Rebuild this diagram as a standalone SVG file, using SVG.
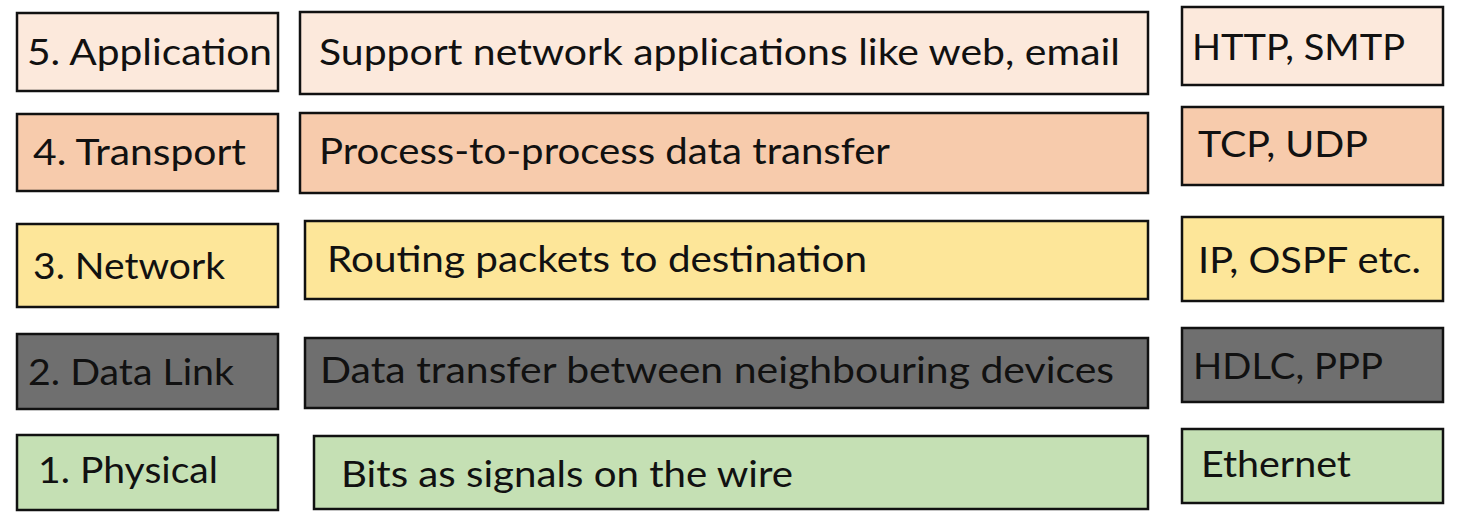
<svg xmlns="http://www.w3.org/2000/svg" width="1472" height="520" viewBox="0 0 1472 520">
<style>
rect{stroke:#111;stroke-width:2.5}
text{font-family:Lato,"Open Sans","Liberation Sans",sans-serif;font-size:36px;fill:#111}
.l5{fill:#FCE9DC}.l4{fill:#F7CBAC}.l3{fill:#FDE699}.l2{fill:#6F6F6F}.l1{fill:#C5E0B4}
</style>
<rect x="0" y="0" width="1472" height="520" style="fill:#fff;stroke:none"/>
<g id="layer5">
<rect class="l5" x="17" y="13" width="261" height="78"/>
<text x="27" y="65" textLength="245" lengthAdjust="spacingAndGlyphs">5. Application</text>
</g>
<g id="desc5">
<rect class="l5" x="300" y="12" width="848" height="82"/>
<text x="319" y="65" textLength="801" lengthAdjust="spacingAndGlyphs">Support network applications like web, email</text>
</g>
<g id="proto5">
<rect class="l5" x="1182" y="7" width="261" height="78"/>
<text x="1192" y="60" textLength="213" lengthAdjust="spacingAndGlyphs">HTTP, SMTP</text>
</g>
<g id="layer4">
<rect class="l4" x="17" y="114" width="261" height="77"/>
<text x="33" y="165" textLength="213" lengthAdjust="spacingAndGlyphs">4. Transport</text>
</g>
<g id="desc4">
<rect class="l4" x="300" y="113" width="848" height="80"/>
<text x="319" y="164" textLength="571" lengthAdjust="spacingAndGlyphs">Process-to-process data transfer</text>
</g>
<g id="proto4">
<rect class="l4" x="1182" y="107" width="261" height="78"/>
<text x="1198" y="157" textLength="170" lengthAdjust="spacingAndGlyphs">TCP, UDP</text>
</g>
<g id="layer3">
<rect class="l3" x="17" y="224" width="261" height="83"/>
<text x="33" y="279" textLength="192" lengthAdjust="spacingAndGlyphs">3. Network</text>
</g>
<g id="desc3">
<rect class="l3" x="305" y="221" width="843" height="78"/>
<text x="327" y="272" textLength="540" lengthAdjust="spacingAndGlyphs">Routing packets to destination</text>
</g>
<g id="proto3">
<rect class="l3" x="1182" y="217" width="261" height="84"/>
<text x="1198" y="273" textLength="223" lengthAdjust="spacingAndGlyphs">IP, OSPF etc.</text>
</g>
<g id="layer2">
<rect class="l2" x="17" y="334" width="261" height="75"/>
<text x="28" y="385" textLength="206" lengthAdjust="spacingAndGlyphs">2. Data Link</text>
</g>
<g id="desc2">
<rect class="l2" x="305" y="338" width="843" height="70"/>
<text x="320" y="383" textLength="794" lengthAdjust="spacingAndGlyphs">Data transfer between neighbouring devices</text>
</g>
<g id="proto2">
<rect class="l2" x="1182" y="328" width="261" height="74"/>
<text x="1193" y="379" textLength="190" lengthAdjust="spacingAndGlyphs">HDLC, PPP</text>
</g>
<g id="layer1">
<rect class="l1" x="17" y="435" width="261" height="75"/>
<text x="38" y="483" textLength="180" lengthAdjust="spacingAndGlyphs">1. Physical</text>
</g>
<g id="desc1">
<rect class="l1" x="314" y="436" width="834" height="73"/>
<text x="341" y="487" textLength="452" lengthAdjust="spacingAndGlyphs">Bits as signals on the wire</text>
</g>
<g id="proto1">
<rect class="l1" x="1182" y="429" width="261" height="74"/>
<text x="1201" y="477" textLength="150" lengthAdjust="spacingAndGlyphs">Ethernet</text>
</g>
<g id="connectors"></g>
</svg>
